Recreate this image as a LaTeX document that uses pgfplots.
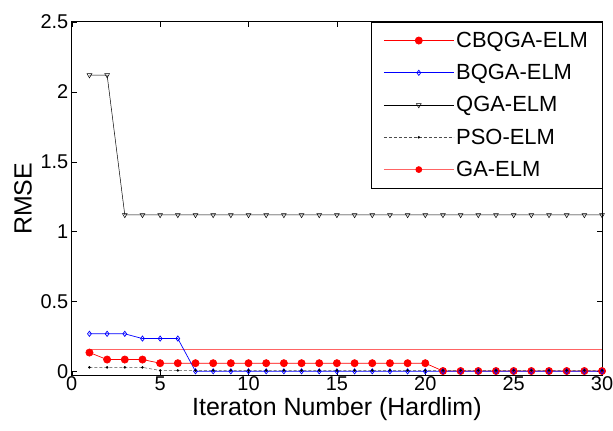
\documentclass[border=0pt]{standalone}
\usepackage{fontspec}
\setmainfont{Liberation Sans}
\usepackage{pgfplots}
\pgfplotsset{compat=1.18}
\definecolor{gared}{RGB}{255,100,100}
\begin{document}
\begin{tikzpicture}[x=1pt,y=1pt]
\useasboundingbox (-72,-55) rectangle (543,377);
\begin{axis}[
  scale only axis, width=532pt, height=355pt,
  xmin=0, xmax=30, ymin=-0.03, ymax=2.5,
  xtick={0,5,...,30}, ytick={0,0.5,1,1.5,2,2.5},
  yticklabels={0,0.5,1,1.5,2,2.5},
  tick style={black, line width=0.5pt}, major tick length=5pt,
  axis line style={line width=0.9pt},
  /pgf/number format/assume math mode=true,
  tick label style={font=\fontsize{20}{22}\selectfont},
  xticklabel style={yshift=3pt},
  label style={font=\fontsize{25}{28}\selectfont},
  xlabel={Iteraton Number (Hardlim)}, ylabel={RMSE},
  xlabel style={at={(axis description cs:0.5,0)}, anchor=north, inner sep=0pt, yshift=-22pt},
  ylabel style={at={(axis description cs:-0.092,0.5)}, anchor=center},
  legend style={at={(1,1)}, anchor=north east, draw=black, line width=0.5pt,
    font=\fontsize{22}{26}\selectfont, row sep=11.5pt, inner xsep=12pt, inner ysep=8pt},
  legend cell align=left,
  legend image code/.code={\draw[#1] (0pt,0pt) -- (70pt,0pt); \draw[#1] plot coordinates {(35pt,0pt)};},
]
\addplot[draw=gared, line width=1.1pt, forget plot] coordinates {
(1,0.16) (2,0.16) (3,0.16) (4,0.16) (5,0.16) (6,0.16) (7,0.16) (8,0.16) (9,0.16) (10,0.16)
(11,0.16) (12,0.16) (13,0.16) (14,0.16) (15,0.16) (16,0.16) (17,0.16) (18,0.16) (19,0.16) (20,0.16)
(21,0.16) (22,0.16) (23,0.16) (24,0.16) (25,0.16) (26,0.16) (27,0.16) (28,0.16) (29,0.16) (30,0.16)};
\addplot[color=red, line width=0.7pt, mark=*, mark size=3.6pt, mark options={fill=red}] coordinates {
(1,0.136) (2,0.086) (3,0.086) (4,0.086) (5,0.06) (6,0.06) (7,0.06) (8,0.06) (9,0.06) (10,0.06)
(11,0.06) (12,0.06) (13,0.06) (14,0.06) (15,0.06) (16,0.06) (17,0.06) (18,0.06) (19,0.06) (20,0.06)
(21,0.004) (22,0.004) (23,0.004) (24,0.004) (25,0.004) (26,0.004) (27,0.004) (28,0.004) (29,0.004) (30,0.004)};
\addlegendentry{CBQGA-ELM}
\addplot[color=blue, line width=0.7pt, mark=diamond, mark size=2.6pt, mark options={fill=white}] coordinates {
(1,0.27) (2,0.27) (3,0.27) (4,0.236) (5,0.236) (6,0.236) (7,0.002) (8,0.002) (9,0.002) (10,0.002)
(11,0.002) (12,0.002) (13,0.002) (14,0.002) (15,0.002) (16,0.002) (17,0.002) (18,0.002) (19,0.002) (20,0.002)
(21,0.002) (22,0.002) (23,0.002) (24,0.002) (25,0.002) (26,0.002) (27,0.002) (28,0.002) (29,0.002) (30,0.002)};
\addlegendentry{BQGA-ELM}
\addplot[color=black, line width=0.5pt, mark=triangle, mark size=2.8pt, mark options={rotate=180, fill=white}] coordinates {
(1,2.12) (2,2.12) (3,1.12) (4,1.12) (5,1.12) (6,1.12) (7,1.12) (8,1.12) (9,1.12) (10,1.12)
(11,1.12) (12,1.12) (13,1.12) (14,1.12) (15,1.12) (16,1.12) (17,1.12) (18,1.12) (19,1.12) (20,1.12)
(21,1.12) (22,1.12) (23,1.12) (24,1.12) (25,1.12) (26,1.12) (27,1.12) (28,1.12) (29,1.12) (30,1.12)};
\addlegendentry{QGA-ELM}
\addplot[color=black!70, line width=0.5pt, densely dashed, mark=*, mark size=1pt, mark options={solid, black}] coordinates {
(1,0.03) (2,0.03) (3,0.03) (4,0.03) (5,0.008) (6,0.008) (7,0.008) (8,0.008) (9,0.008) (10,0.008)
(11,0.008) (12,0.008) (13,0.008) (14,0.008) (15,0.008) (16,0.008) (17,0.008) (18,0.008) (19,0.008) (20,0.008)
(21,0.008) (22,0.008) (23,0.008) (24,0.008) (25,0.008) (26,0.008) (27,0.008) (28,0.008) (29,0.008) (30,0.008)};
\addlegendentry{PSO-ELM}
\addlegendimage{draw=gared, line width=1.1pt, mark=*, mark size=2.8pt, mark options={fill=red, draw=red}}
\addlegendentry{GA-ELM}
\end{axis}
\end{tikzpicture}
\end{document}
